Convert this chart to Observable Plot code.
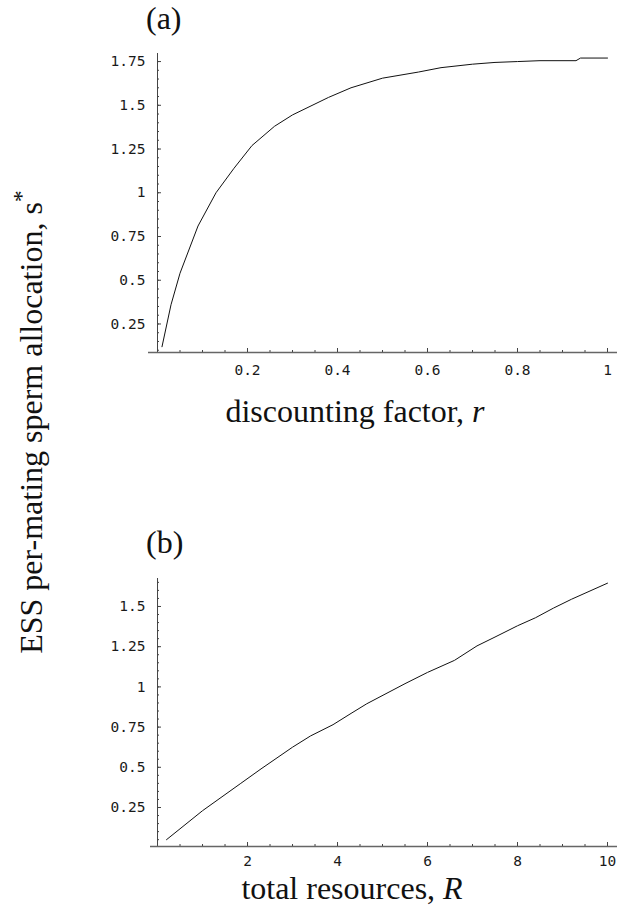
<!DOCTYPE html>
<html>
<head>
<meta charset="utf-8">
<script src="https://cdn.jsdelivr.net/npm/d3@7"></script>
<script src="https://cdn.jsdelivr.net/npm/@observablehq/plot@0.6"></script>
<style>
  html, body { margin: 0; padding: 0; background: #fff; }
  #page { position: relative; width: 617px; height: 907px; overflow: hidden; background: #fff; }
  #page svg { position: absolute; left: 0; }
</style>
</head>
<body>
<div id="page"></div>
<script>
// ---- Panel (a): ESS allocation vs discounting factor r ----
const rA = [0.01, 0.03, 0.05, 0.09, 0.13, 0.17, 0.21, 0.26, 0.30, 0.38, 0.43, 0.50, 0.58, 0.63, 0.70, 0.75, 0.80, 0.85, 0.93, 0.94, 1.0];
const sA = [0.12, 0.36, 0.54, 0.81, 1.0, 1.14, 1.27, 1.38, 1.445, 1.545, 1.60, 1.655, 1.69, 1.715, 1.735, 1.745, 1.75, 1.755, 1.755, 1.77, 1.77];
const xTicksA = [0.2, 0.4, 0.6, 0.8, 1];
const yTicksA = [0.25, 0.5, 0.75, 1, 1.25, 1.5, 1.75];

// ---- Panel (b): ESS allocation vs total resources R ----
const RB = [0.2, 1.0, 1.85, 2.3, 3.0, 3.4, 3.9, 4.3, 4.65, 5.5, 6.0, 6.6, 7.1, 7.5, 8.0, 8.4, 8.8, 9.2, 10];
const sB = [0.05, 0.23, 0.40, 0.49, 0.625, 0.695, 0.765, 0.835, 0.895, 1.02, 1.09, 1.165, 1.255, 1.31, 1.38, 1.43, 1.49, 1.545, 1.645];
const xTicksB = [2, 4, 6, 8, 10];
const yTicksB = [0.25, 0.5, 0.75, 1, 1.25, 1.5];

// text
const panelLabels = ["(a)", "(b)"];
const xTitleA = ["discounting factor, ", "r"];
const xTitleB = ["total resources, ", "R"];
const yTitle = ["ESS per-mating sperm allocation, s", "*"];

const tickFont = "'DejaVu Sans Mono', 'Liberation Mono', monospace";
const serif = "'Liberation Serif', 'Times New Roman', serif";
const axisColor = "#444";

function panel({xs, ys, xDomain, yDomain, xTicks, yTicks, xMinor, yMinor, marginTop, marginBottom, marginLeft, height, xPad, axisOffset}) {
  const data = xs.map((x, i) => ({x, y: ys[i]}));
  return Plot.plot({
    width: 617,
    height,
    marginTop,
    marginBottom,
    marginLeft,
    marginRight: 0,
    style: {fontFamily: tickFont, fontSize: "14.5px", color: "#1a1a1a", background: "transparent"},
    x: {domain: xDomain},
    y: {domain: yDomain},
    marks: [
      // axis lines
      Plot.ruleX([0], {stroke: axisColor, strokeWidth: 1}),
      Plot.ruleY([yDomain[0]], {stroke: "#666", strokeWidth: 1.4}),
      // y ticks (pointing inward, from the y axis at x = 0)
      Plot.axisY(yMinor, {anchor: "left", tickSize: 2, dx: axisOffset + 2, fill: "none", stroke: axisColor, label: null}),
      Plot.axisY(yTicks, {anchor: "left", tickSize: 4, dx: axisOffset + 4, fill: "none", stroke: axisColor, label: null}),
      Plot.axisY(yTicks, {anchor: "left", tickSize: 0, tickPadding: 12 - axisOffset, tickFormat: d => String(d), label: null}),
      // x ticks (pointing inward) and labels
      Plot.axisX(xMinor, {anchor: "bottom", tickSize: 2, dy: -2, fill: "none", stroke: axisColor, label: null}),
      Plot.axisX(xTicks, {anchor: "bottom", tickSize: 4, dy: -4, fill: "none", stroke: axisColor, label: null}),
      Plot.axisX(xTicks, {anchor: "bottom", tickSize: 0, tickPadding: xPad, tickFormat: d => String(d), label: null}),
      // curve
      Plot.line(data, {x: "x", y: "y", stroke: "#111", strokeWidth: 1})
    ]
  });
}

const page = document.getElementById("page");

const svgA = panel({
  xs: rA, ys: sA,
  xDomain: [-0.02, 1.0222], yDomain: [0.087, 1.796],
  xTicks: xTicksA, yTicks: yTicksA,
  xMinor: d3.range(0.05, 1.0001, 0.05).map(v => +v.toFixed(2)),
  yMinor: d3.range(0.1, 1.7501, 0.05).map(v => +v.toFixed(2)),
  marginTop: 53, marginBottom: 48, marginLeft: 148, height: 400, xPad: 12, axisOffset: 9
});
svgA.style.top = "0px";
page.appendChild(svgA);

const svgB = panel({
  xs: RB, ys: sB,
  xDomain: [-0.156, 10.222], yDomain: [0.0075, 1.674],
  xTicks: xTicksB, yTicks: yTicksB,
  xMinor: d3.range(0.5, 10.001, 0.5).map(v => +v.toFixed(1)),
  yMinor: d3.range(0.05, 1.6501, 0.05).map(v => +v.toFixed(2)),
  marginTop: 118, marginBottom: 34, marginLeft: 150, height: 420, xPad: 9, axisOffset: 7
});
svgB.style.top = "460px";
page.appendChild(svgB);

// titles overlay
const ov = d3.select(page).append("svg")
  .attr("width", 617).attr("height", 907)
  .style("top", "0px").style("pointer-events", "none")
  .attr("font-family", serif).attr("font-size", 32).attr("fill", "#111");

ov.append("text").attr("x", 146).attr("y", 29).text(panelLabels[0]);
ov.append("text").attr("x", 146).attr("y", 553).text(panelLabels[1]);

const tA = ov.append("text").attr("x", 355).attr("y", 422).attr("text-anchor", "middle");
tA.append("tspan").text(xTitleA[0]);
tA.append("tspan").attr("font-style", "italic").text(xTitleA[1]);

const tB = ov.append("text").attr("x", 352).attr("y", 899).attr("text-anchor", "middle");
tB.append("tspan").text(xTitleB[0]);
tB.append("tspan").attr("font-style", "italic").text(xTitleB[1]);

const tY = ov.append("text").attr("transform", "translate(42,422) rotate(-90)").attr("text-anchor", "middle");
tY.append("tspan").text(yTitle[0]);
tY.append("tspan").attr("dy", -13).attr("font-size", 24).text(yTitle[1]);
</script>
</body>
</html>
